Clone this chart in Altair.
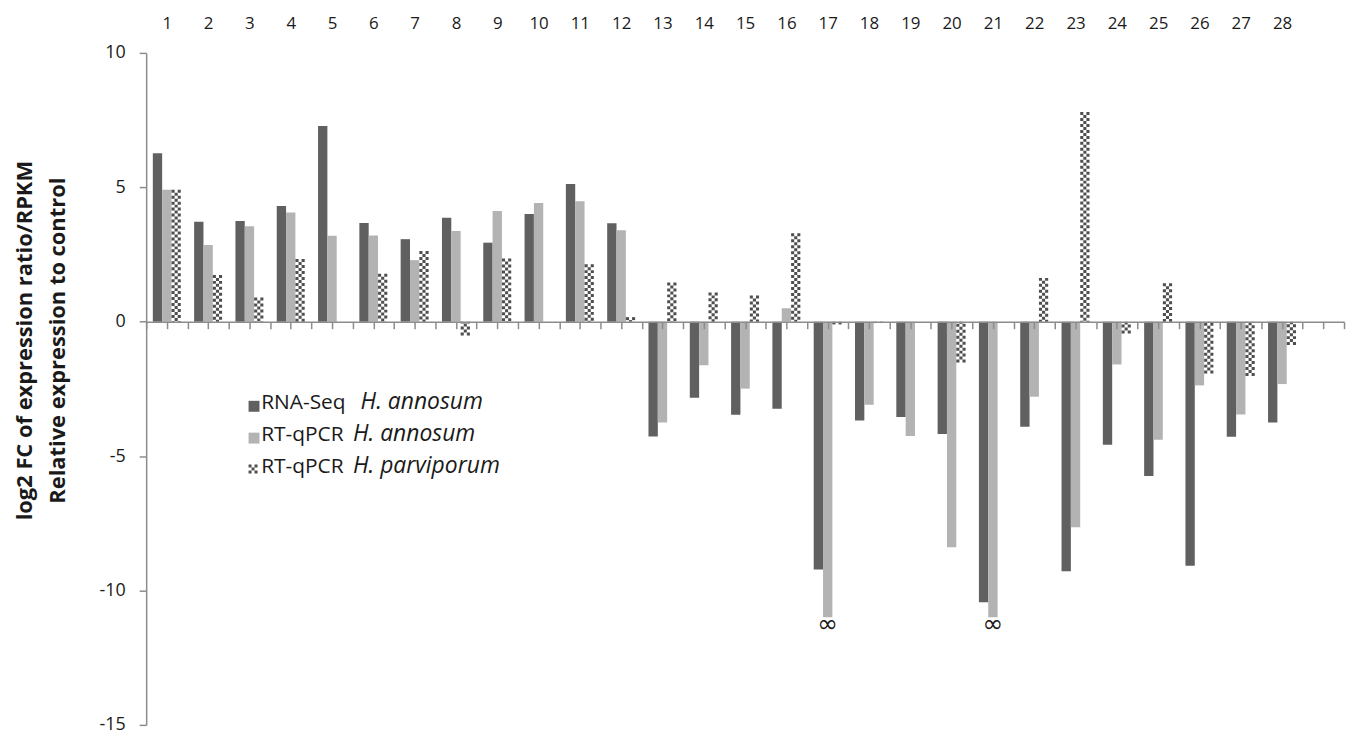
import altair as alt
import pandas as pd

# ---------------- data ----------------
categories = list(range(1, 29))
series_names = ["RNA-Seq H. annosum", "RT-qPCR H. annosum", "RT-qPCR H. parviporum"]
rnaseq_annosum = [6.27, 3.72, 3.75, 4.30, 7.28, 3.67, 3.07, 3.87, 2.94, 4.01, 5.12, 3.66,
                  -4.27, -2.83, -3.46, -3.24, -9.22, -3.68, -3.55, -4.18, -10.44, -3.91,
                  -9.28, -4.58, -5.74, -9.08, -4.28, -3.75]
qpcr_annosum = [4.91, 2.85, 3.55, 4.06, 3.20, 3.21, 2.29, 3.37, 4.12, 4.42, 4.48, 3.40,
                -3.75, -1.62, -2.49, 0.50, -11.0, -3.09, -4.25, -8.39, -11.0, -2.79,
                -7.65, -1.59, -4.39, -2.37, -3.45, -2.32]
qpcr_parviporum = [4.91, 1.74, 0.90, 2.33, None, 1.78, 2.63, -0.51, 2.35, None, 2.14, 0.17,
                   1.46, 1.09, 0.97, 3.29, -0.10, -0.05, None, -1.52, None, 1.63,
                   7.80, -0.44, 1.43, -1.93, -2.02, -0.87]
infinite_cats = [17, 21]          # RT-qPCR H. annosum values shown as infinity
y_ticks = [-15, -10, -5, 0, 5, 10]
legend_prefix = ["RNA-Seq", "RT-qPCR", "RT-qPCR"]
legend_species = ["H. annosum", "H. annosum", "H. parviporum"]

rows = []
for k, vals in enumerate([rnaseq_annosum, qpcr_annosum, qpcr_parviporum]):
    for c, v in zip(categories, vals):
        rows.append({"cat": c, "series": series_names[k], "k": k, "value": v})
df = pd.DataFrame(rows)

# ---------------- layout ----------------
W, H = 1205, 676
BAR = 0.226
ZERO_OFFSET = -(H * 15 / 25)      # move the bottom axis up to y = 0
FONT = "Open Sans"
AXIS_GREY = "#8c8c8c"
DARK, LIGHT, CHECK = "#606060", "#b3b3b3", "#4f4f4f"

x_scale = alt.Scale(domain=[0.5, 29.5], nice=False, zero=False)
y_scale = alt.Scale(domain=[-15, 10], nice=False, zero=False)

y_axis = alt.Axis(
    values=y_ticks, grid=False, domainColor=AXIS_GREY, domainWidth=1.5,
    tickColor=AXIS_GREY, tickWidth=1.5, tickSize=7, labelPadding=14,
    labelExpr="'' + datum.value",
    labelFontSize=18, labelFont=FONT, labelColor="#1a1a1a",
    title=["log2 FC of expression ratio/RPKM", "Relative expression to control"],
    titleFont=FONT, titleFontSize=22, titleFontWeight="bold", titleColor="#1a1a1a",
    titleAngle=-90, titleAlign="center", titleBaseline="middle",
    titleLineHeight=33, titleX=-122, titleY=289,
)

top_axis = alt.Axis(
    orient="top", values=categories, format="d", domain=False, ticks=False, grid=False,
    labelFontSize=17, labelFont=FONT, labelColor="#1a1a1a", labelPadding=25,
    labelBaseline="alphabetic", title=None,
)

zero_axis = alt.Axis(
    orient="bottom", offset=ZERO_OFFSET,
    values=[0.5 + 0.5 * i for i in range(59)], labels=False, grid=False,
    domainColor=AXIS_GREY, domainWidth=1.5, tickColor=AXIS_GREY, tickWidth=1.5,
    tickSize=7, zindex=1, title=None,
)

base = alt.Chart(df).transform_filter("isValid(datum.value)").transform_calculate(
    xc=f"datum.cat + (datum.k - 1) * {BAR}",
    x0=f"datum.cat + (datum.k - 1) * {BAR} - {BAR / 2}",
    x1=f"datum.cat + (datum.k - 1) * {BAR} + {BAR / 2}",
)

bars = base.transform_filter("datum.k < 2").mark_bar().encode(
    x=alt.X("x0:Q", scale=x_scale, axis=top_axis),
    x2="x1:Q",
    y=alt.Y("value:Q", scale=y_scale, axis=y_axis),
    y2=alt.datum(0),
    color=alt.Color("series:N", scale=alt.Scale(domain=series_names[:2], range=[DARK, LIGHT]),
                    legend=None),
)

checkers = []
for off, dash_off in [(-3.1, 0), (0, 3), (3.1, 0)]:
    checkers.append(
        base.transform_filter("datum.k == 2").mark_rule(
            strokeWidth=3.1, strokeDash=[3, 3], strokeDashOffset=dash_off,
            xOffset=off, color=CHECK,
        ).encode(
            x=alt.X("xc:Q", scale=x_scale, axis=None),
            y=alt.Y("value:Q", scale=y_scale, axis=y_axis),
            y2=alt.datum(0),
        )
    )

inf_text = base.transform_filter("datum.k == 1").transform_filter(
    alt.FieldOneOfPredicate(field="cat", oneOf=infinite_cats)
).mark_text(text="∞", fontSize=25, font="DejaVu Sans", baseline="middle", dy=7, color="#1a1a1a").encode(
    x=alt.X("xc:Q", scale=x_scale, axis=zero_axis),
    y=alt.Y("value:Q", scale=y_scale, axis=y_axis),
)

# ---------------- custom legend ----------------
legend_layers = []
sw_x0, sw_x1 = 103, 114
sw_y = [350, 382, 414]
text_base = [358.3, 390.7, 422.5]
italic_x = [215.7, 208, 208]
for r in range(3):
    lab = pd.DataFrame({"prefix": [legend_prefix[r]], "species": [legend_species[r]]})
    if r < 2:
        legend_layers.append(
            alt.Chart(lab).mark_rect(color=[DARK, LIGHT][r]).encode(
                x=alt.value(sw_x0), x2=alt.value(sw_x1),
                y=alt.value(sw_y[r]), y2=alt.value(sw_y[r] + 11),
            )
        )
    else:
        for off, dash_off in [(1.5, 0), (4.5, 3), (7.5, 0)]:
            legend_layers.append(
                alt.Chart(lab).mark_rule(strokeWidth=3, strokeDash=[3, 3],
                                         strokeDashOffset=dash_off, color=CHECK).encode(
                    x=alt.value(sw_x0 + off), y=alt.value(sw_y[r]), y2=alt.value(sw_y[r] + 9),
                )
            )
    legend_layers.append(
        alt.Chart(lab).mark_text(align="left", baseline="alphabetic", fontSize=21, font=FONT,
                                 color="#1a1a1a").encode(
            text="prefix:N", x=alt.value(115.7), y=alt.value(text_base[r]),
        )
    )
    legend_layers.append(
        alt.Chart(lab).mark_text(align="left", baseline="alphabetic", fontSize=23, font=FONT,
                                 fontStyle="italic", color="#1a1a1a").encode(
            text="species:N", x=alt.value(italic_x[r]), y=alt.value(text_base[r]),
        )
    )

chart = alt.layer(bars, *checkers, inf_text, *legend_layers).resolve_axis(
    x="independent"
).properties(
    width=W, height=H,
    autosize=alt.AutoSizeParams(type="none"),
    padding={"left": 139, "top": 43, "right": 3, "bottom": 8},
).configure_view(stroke=None)

chart.save("out.html", embed_options={"renderer": "svg", "actions": False})
